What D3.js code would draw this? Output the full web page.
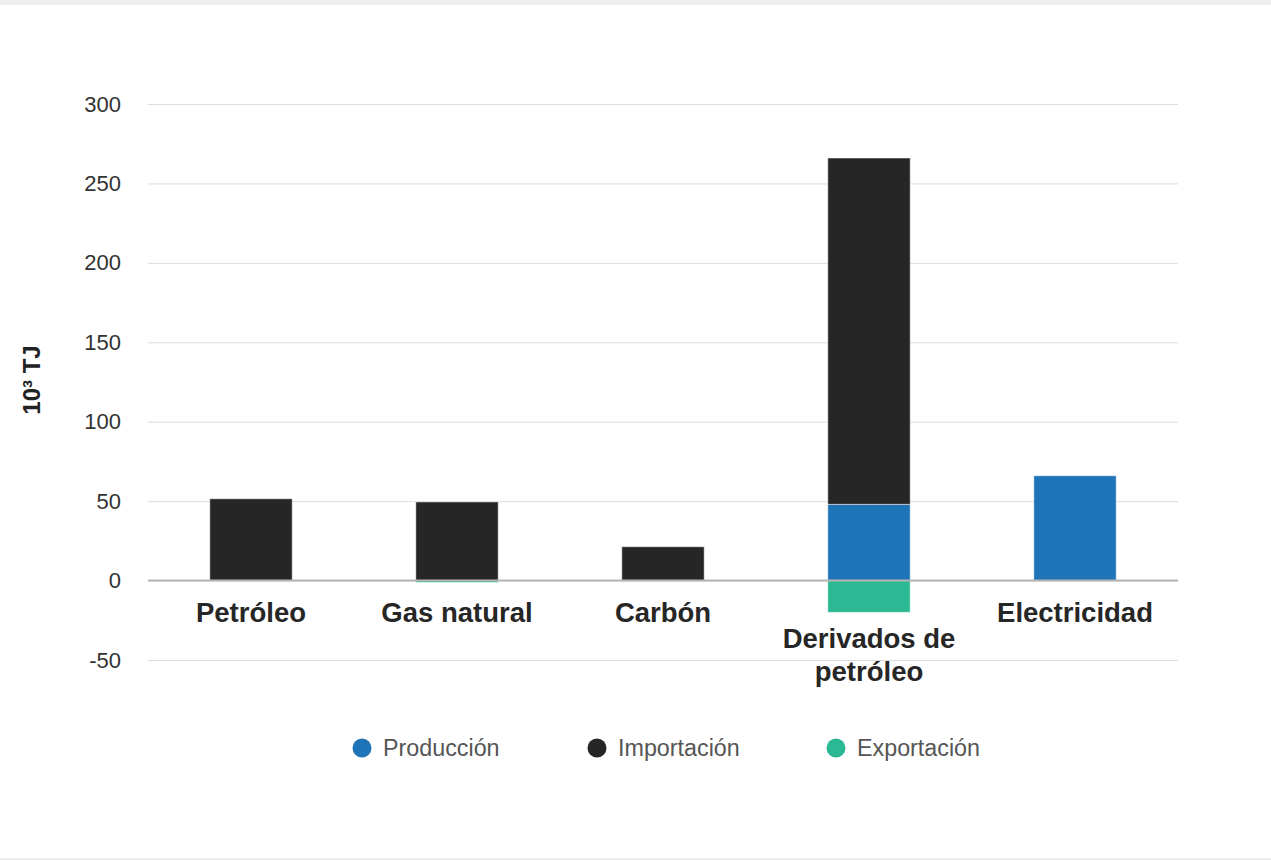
<!DOCTYPE html>
<html>
<head>
<meta charset="utf-8">
<script src="https://cdn.jsdelivr.net/npm/d3@7"></script>
<style>
  html, body { margin: 0; padding: 0; background: #fff; }
  body { width: 1271px; height: 860px; overflow: hidden; position: relative; }
  .topband { position: absolute; left: 0; top: 0; width: 1271px; height: 5px; background: #f0f0f0; }
  .bottomline { position: absolute; left: 0; top: 858px; width: 1271px; height: 2px; background: #ececec; }
  svg { position: absolute; left: 0; top: 0; font-family: "Liberation Sans", Arial, sans-serif; }
</style>
</head>
<body>
<div class="topband"></div>
<div class="bottomline"></div>
<svg id="chart" width="1271" height="860"></svg>
<script>
// Balance de energía por fuente, en 10³ TJ
const categories = ["Petróleo", "Gas natural", "Carbón", "Derivados de petróleo", "Electricidad"];
const produccion = [0, 0, 0, 48, 66];
const importacion = [51.5, 49.5, 21.3, 218, 0];
const exportacion = [0, -1.2, 0, -20, 0];
const yTicks = [-50, 0, 50, 100, 150, 200, 250, 300];
const seriesNames = ["Producción", "Importación", "Exportación"];
const seriesColors = ["#1f74b8", "#262626", "#2bb893"];

const svg = d3.select("#chart");
const plotLeft = 148, plotRight = 1178;

const y = d3.scaleLinear().domain([-50, 300]).range([660, 104]);
const x = d3.scaleBand().domain(categories).range([plotLeft, plotRight])
  .paddingInner(0.6).paddingOuter(0.3);

// grid lines and tick labels
const yAxis = d3.axisLeft(y).tickValues(yTicks).tickSize(-(plotRight - plotLeft)).tickPadding(27)
  .tickFormat(d => String(d));
const gy = svg.append("g").attr("transform", `translate(${plotLeft},0)`).call(yAxis);
gy.select(".domain").remove();
gy.selectAll(".tick line").attr("stroke", "#dcdcdc").attr("stroke-width", 1);
gy.selectAll(".tick text").attr("fill", "#333").attr("font-size", 22)
  .attr("font-family", "'Liberation Sans', Arial, sans-serif");

// stacked bars: positives stack upward from zero, negatives downward
const rows = categories.map((c, i) => ({ c, vals: [produccion[i], importacion[i], exportacion[i]] }));
const segs = [];
rows.forEach(r => {
  let pos = 0, neg = 0;
  r.vals.forEach((v, s) => {
    if (v > 0) { segs.push({ c: r.c, s, y0: pos, y1: pos + v }); pos += v; }
    else if (v < 0) { segs.push({ c: r.c, s, y0: neg + v, y1: neg }); neg += v; }
  });
});

svg.append("g").selectAll("rect").data(segs).join("rect")
  .attr("x", d => x(d.c))
  .attr("width", x.bandwidth())
  .attr("y", d => y(d.y1))
  .attr("height", d => Math.max(1, y(d.y0) - y(d.y1)))
  .attr("fill", d => seriesColors[d.s])
  .attr("stroke", "#fff").attr("stroke-opacity", 0.5).attr("stroke-width", 1);

// zero axis line
svg.append("line").attr("x1", plotLeft).attr("x2", plotRight)
  .attr("y1", y(0)).attr("y2", y(0))
  .attr("stroke", "#b5b5b5").attr("stroke-width", 2);

// category labels
const wrapLabels = { "Derivados de petróleo": ["Derivados de", "petróleo"] };
const catG = svg.append("g");
categories.forEach(c => {
  const lines = wrapLabels[c] || [c];
  const t = catG.append("text")
    .attr("x", x(c) + x.bandwidth() / 2)
    .attr("y", lines.length > 1 ? 648 : 622)
    .attr("text-anchor", "middle")
    .attr("font-size", 27.5).attr("font-weight", "bold").attr("fill", "#262626");
  lines.forEach((l, i) => t.append("tspan")
    .attr("x", x(c) + x.bandwidth() / 2).attr("dy", i === 0 ? 0 : 33).text(l));
});

// y axis title
svg.append("text")
  .attr("transform", "translate(40,380) rotate(-90)")
  .attr("text-anchor", "middle")
  .attr("font-size", 24).attr("font-weight", "bold").attr("fill", "#222")
  .text("10³ TJ");

// legend
const legendX = [362, 597, 836];
const lg = svg.append("g");
seriesNames.forEach((n, i) => {
  lg.append("circle").attr("cx", legendX[i]).attr("cy", 748).attr("r", 9.5).attr("fill", seriesColors[i]);
  lg.append("text").attr("x", legendX[i] + 21).attr("y", 756)
    .attr("font-size", 23.3).attr("fill", "#555").text(n);
});
</script>
</body>
</html>
